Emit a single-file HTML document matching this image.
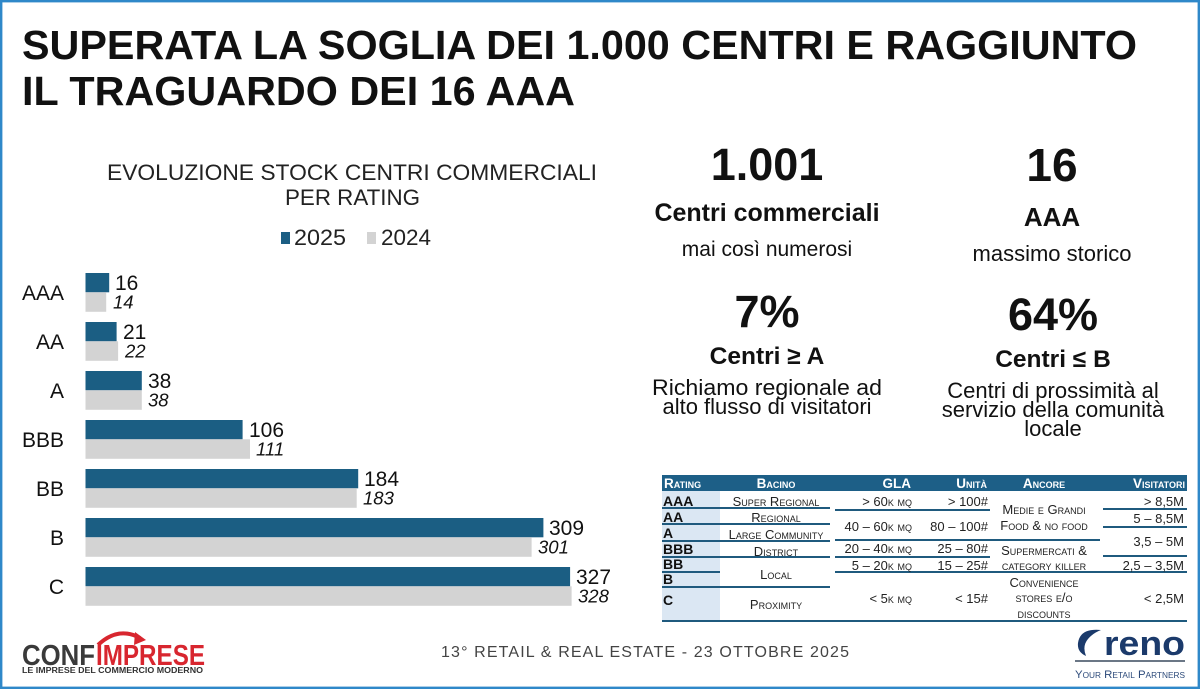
<!DOCTYPE html>
<html><head><meta charset="utf-8"><style>
html,body{margin:0;padding:0;background:#fff;}
svg{display:block;}
text{font-family:"Liberation Sans",Arial,sans-serif;}
.sc{font-variant:small-caps;}
</style></head><body>
<svg width="1200" height="689" viewBox="0 0 1200 689" xmlns="http://www.w3.org/2000/svg">
<rect x="0" y="0" width="1200" height="689" fill="#fff"/>
<rect x="1.2" y="1.2" width="1197.6" height="686.6" fill="none" stroke="#2f88c9" stroke-width="2.4"/>

<!-- Title -->
<text x="22" y="59" font-size="41" font-weight="bold" fill="#111" textLength="1115" lengthAdjust="spacingAndGlyphs">SUPERATA LA SOGLIA DEI 1.000 CENTRI E RAGGIUNTO</text>
<text x="22" y="105" font-size="41" font-weight="bold" fill="#111" textLength="553" lengthAdjust="spacingAndGlyphs">IL TRAGUARDO DEI 16 AAA</text>

<!-- Chart title -->
<text x="107" y="180" font-size="22" fill="#222" textLength="490" lengthAdjust="spacingAndGlyphs">EVOLUZIONE STOCK CENTRI COMMERCIALI</text>
<text x="285" y="205" font-size="22" fill="#222" textLength="135" lengthAdjust="spacingAndGlyphs">PER RATING</text>
<!-- Legend -->
<rect x="281" y="232" width="9" height="12" fill="#1b5e83"/>
<text x="294" y="245" font-size="22" fill="#222" textLength="52" lengthAdjust="spacingAndGlyphs">2025</text>
<rect x="367" y="232" width="9" height="12" fill="#d3d3d3"/>
<text x="381" y="245" font-size="22" fill="#222" textLength="50" lengthAdjust="spacingAndGlyphs">2024</text>

<!-- Bars -->
<g>
<rect x="85.5" y="273" width="23.7" height="19.3" fill="#1b5e83"/>
<rect x="85.5" y="292.3" width="20.7" height="19.5" fill="#d3d3d3"/>
<rect x="85.5" y="322" width="31.1" height="19.3" fill="#1b5e83"/>
<rect x="85.5" y="341.3" width="32.6" height="19.5" fill="#d3d3d3"/>
<rect x="85.5" y="371" width="56.3" height="19.3" fill="#1b5e83"/>
<rect x="85.5" y="390.3" width="56.3" height="19.5" fill="#d3d3d3"/>
<rect x="85.5" y="420" width="157.1" height="19.3" fill="#1b5e83"/>
<rect x="85.5" y="439.3" width="164.5" height="19.5" fill="#d3d3d3"/>
<rect x="85.5" y="469" width="272.7" height="19.3" fill="#1b5e83"/>
<rect x="85.5" y="488.3" width="271.2" height="19.5" fill="#d3d3d3"/>
<rect x="85.5" y="518" width="457.9" height="19.3" fill="#1b5e83"/>
<rect x="85.5" y="537.3" width="446.1" height="19.5" fill="#d3d3d3"/>
<rect x="85.5" y="567" width="484.6" height="19.3" fill="#1b5e83"/>
<rect x="85.5" y="586.3" width="486.1" height="19.5" fill="#d3d3d3"/>
</g>
<!-- Category labels -->
<g font-size="21" fill="#111" text-anchor="end">
<text x="64" y="300">AAA</text>
<text x="64" y="349">AA</text>
<text x="64" y="398">A</text>
<text x="64" y="447">BBB</text>
<text x="64" y="496">BB</text>
<text x="64" y="545">B</text>
<text x="64" y="594">C</text>
</g>
<!-- Values 2025 -->
<g font-size="21" fill="#111">
<text x="115" y="290">16</text>
<text x="123" y="339">21</text>
<text x="148" y="388">38</text>
<text x="249" y="437">106</text>
<text x="364" y="486">184</text>
<text x="549" y="535">309</text>
<text x="576" y="584">327</text>
</g>
<!-- Values 2024 -->
<g font-size="18.5" font-style="italic" fill="#111">
<text x="113" y="308.5">14</text>
<text x="125" y="357.5">22</text>
<text x="148" y="406.5">38</text>
<text x="256" y="455.5">111</text>
<text x="363" y="504.5">183</text>
<text x="538" y="553.5">301</text>
<text x="578" y="602.5">328</text>
</g>

<!-- Stats -->
<g text-anchor="middle" fill="#111">
<text x="767" y="180" font-size="45" font-weight="bold">1.001</text>
<text x="767" y="221" font-size="25" font-weight="bold">Centri commerciali</text>
<text x="767" y="256" font-size="21">mai così numerosi</text>
<text x="1052" y="181" font-size="46" font-weight="bold">16</text>
<text x="1052" y="226" font-size="26" font-weight="bold">AAA</text>
<text x="1052" y="261" font-size="22">massimo storico</text>
<text x="767" y="327" font-size="45" font-weight="bold">7%</text>
<text x="767" y="364" font-size="24.5" font-weight="bold">Centri ≥ A</text>
<text x="767" y="395" font-size="22" textLength="230" lengthAdjust="spacingAndGlyphs">Richiamo regionale ad</text>
<text x="767" y="414" font-size="22">alto flusso di visitatori</text>
<text x="1053" y="330" font-size="45" font-weight="bold">64%</text>
<text x="1053" y="367" font-size="24.5" font-weight="bold">Centri ≤ B</text>
<text x="1053" y="398" font-size="22">Centri di prossimità al</text>
<text x="1053" y="417" font-size="22">servizio della comunità</text>
<text x="1053" y="436" font-size="22">locale</text>
</g>

<!-- Table -->
<rect x="662" y="475" width="525" height="16" fill="#1d5f87"/>
<rect x="662" y="491" width="58" height="130" fill="#dbe7f3"/>
<g font-size="13.5" font-weight="bold" fill="#fff" class="sc">
<text x="664" y="488">Rating</text>
<text x="776" y="488" text-anchor="middle">Bacino</text>
<text x="911" y="488" text-anchor="end">GLA</text>
<text x="987" y="488" text-anchor="end">Unità</text>
<text x="1044" y="488" text-anchor="middle">Ancore</text>
<text x="1185" y="488" text-anchor="end">Visitatori</text>
</g>
<g font-size="14" font-weight="bold" fill="#111">
<text x="663" y="506">AAA</text>
<text x="663" y="522">AA</text>
<text x="663" y="538">A</text>
<text x="663" y="554">BBB</text>
<text x="663" y="569">BB</text>
<text x="663" y="584">B</text>
<text x="663" y="605">C</text>
</g>
<g stroke="#1f5a7e" stroke-width="2" fill="none">
<line x1="662" y1="508" x2="830" y2="508"/>
<line x1="662" y1="524" x2="830" y2="524"/>
<line x1="662" y1="541" x2="830" y2="541"/>
<line x1="662" y1="557" x2="830" y2="557"/>
<line x1="662" y1="572" x2="720" y2="572"/>
<line x1="662" y1="587" x2="830" y2="587"/>
<line x1="835" y1="510" x2="990" y2="510"/>
<line x1="835" y1="540" x2="1100" y2="540"/>
<line x1="835" y1="557" x2="990" y2="557"/>
<line x1="835" y1="572" x2="1187" y2="572"/>
<line x1="1103" y1="509" x2="1187" y2="509"/>
<line x1="1103" y1="527" x2="1187" y2="527"/>
<line x1="1103" y1="556" x2="1187" y2="556"/>
<line x1="662" y1="621" x2="1187" y2="621"/>
</g>
<g font-size="13" fill="#222" class="sc" text-anchor="middle">
<text x="776" y="506">Super Regional</text>
<text x="776" y="522">Regional</text>
<text x="776" y="539">Large Community</text>
<text x="776" y="556">District</text>
<text x="776" y="579">Local</text>
<text x="776" y="609">Proximity</text>
<text x="1044" y="514">Medie e Grandi</text>
<text x="1044" y="530">Food &amp; no food</text>
<text x="1044" y="555">Supermercati &amp;</text>
<text x="1044" y="570">category killer</text>
<text x="1044" y="587">Convenience</text>
<text x="1044" y="602">stores e/o</text>
<text x="1044" y="618">discounts</text>
</g>
<g font-size="13" fill="#222" class="sc" text-anchor="end">
<text x="912" y="506">&gt; 60k mq</text>
<text x="912" y="531">40 – 60k mq</text>
<text x="912" y="553">20 – 40k mq</text>
<text x="912" y="570">5 – 20k mq</text>
<text x="912" y="603">&lt; 5k mq</text>
</g>
<g font-size="13" fill="#222" text-anchor="end">
<text x="988" y="506">&gt; 100#</text>
<text x="988" y="531">80 – 100#</text>
<text x="988" y="553">25 – 80#</text>
<text x="988" y="570">15 – 25#</text>
<text x="988" y="603">&lt; 15#</text>
<text x="1184" y="506">&gt; 8,5M</text>
<text x="1184" y="523">5 – 8,5M</text>
<text x="1184" y="546">3,5 – 5M</text>
<text x="1184" y="570">2,5 – 3,5M</text>
<text x="1184" y="603">&lt; 2,5M</text>
</g>

<!-- Footer -->
<text x="441" y="657" font-size="16" fill="#444" textLength="408" lengthAdjust="spacing">13° RETAIL &amp; REAL ESTATE - 23 OTTOBRE 2025</text>

<!-- Confimprese logo -->
<path d="M98 645 Q118 626 140 638" fill="none" stroke="#d8262f" stroke-width="4"/>
<polygon points="135,632 146,640 134,645" fill="#d8262f"/>
<text x="22" y="665" font-size="29" font-weight="bold" fill="#3a3a3a" textLength="73" lengthAdjust="spacingAndGlyphs">CONF</text>
<text x="96" y="665" font-size="29" font-weight="bold" fill="#d8262f" textLength="109" lengthAdjust="spacingAndGlyphs">IMPRESE</text>
<text x="22" y="673" font-size="8" font-weight="bold" fill="#333" textLength="181" lengthAdjust="spacingAndGlyphs">LE IMPRESE DEL COMMERCIO MODERNO</text>

<!-- reno logo -->
<path d="M1101 630 Q1080 628 1078 643 Q1077 652 1086 656 Q1082 646 1088 639 Q1093 633 1101 630 Z" fill="#1b3a6b"/>
<text x="1104" y="655" font-size="34" font-weight="bold" fill="#1b3a6b" textLength="81" lengthAdjust="spacingAndGlyphs">reno</text>
<line x1="1075" y1="661" x2="1185" y2="661" stroke="#3a4a5e" stroke-width="1.5"/>
<text x="1075" y="678" font-size="11" fill="#2c4a7a" class="sc" textLength="110" lengthAdjust="spacingAndGlyphs">Your Retail Partners</text>
</svg>
</body></html>
